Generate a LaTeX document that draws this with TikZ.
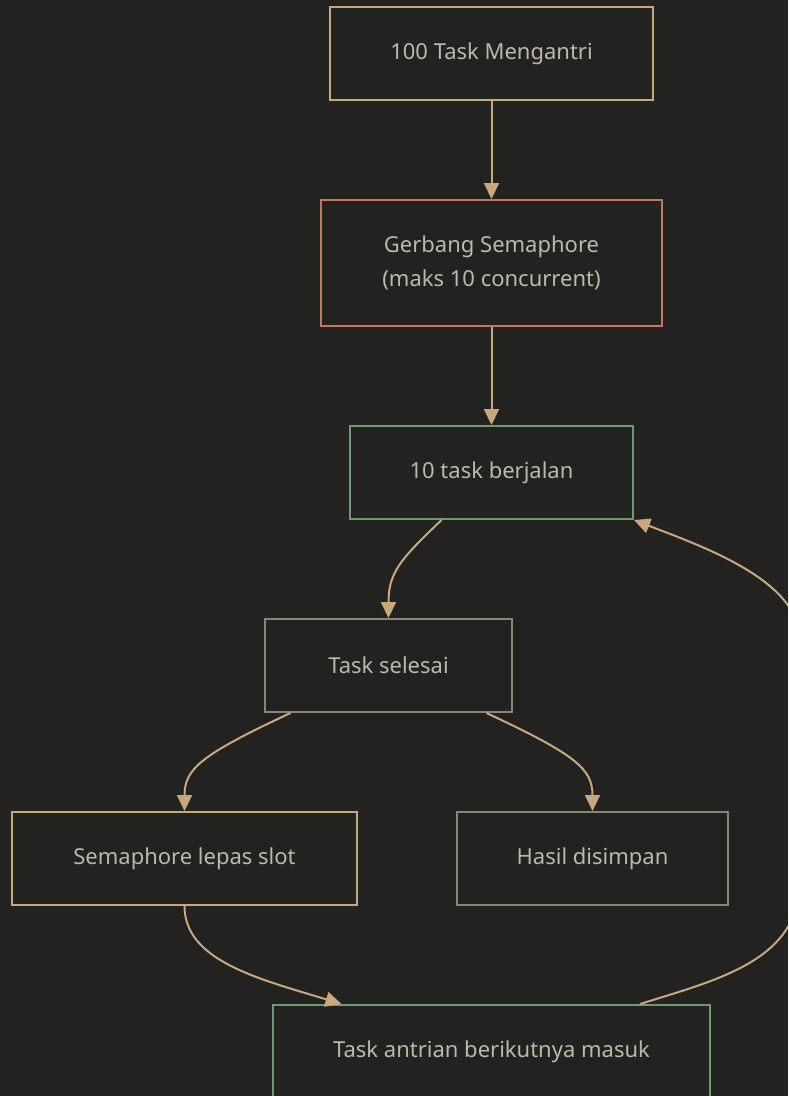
\documentclass[tikz,border=0pt]{standalone}
\usepackage{fontspec}
\setmainfont{Noto Sans}
\usetikzlibrary{arrows.meta}
\definecolor{bgc}{HTML}{222220}
\definecolor{txt}{HTML}{BCB8AC}
\definecolor{tan}{HTML}{C9A87E}
\definecolor{rust}{HTML}{C8785A}
\definecolor{sage}{HTML}{6E9A72}
\definecolor{stone}{HTML}{8A8676}
\tikzset{
  box/.style={draw, line width=2pt, fill=bgc, text=txt, inner sep=0pt,
    font=\fontsize{22}{34}\selectfont, align=center},
  link/.style={draw=tan, line width=2pt, -{Triangle[length=16pt,width=15pt]}},
}
\begin{document}
\begin{tikzpicture}[x=1pt,y=-1pt]
\fill[bgc] (0,0) rectangle (788,1096);
\clip (0,0) rectangle (788,1096);
\node[box, draw=tan, minimum width=323pt, minimum height=93pt] (n1) at (491.5,53.5) {100 Task Mengantri};
\node[box, draw=rust, minimum width=341pt, minimum height=126pt] (n2) at (491.5,263) {Gerbang Semaphore\\(maks 10 concurrent)};
\node[box, draw=sage, minimum width=283pt, minimum height=93pt] (n3) at (491.5,472.5) {10 task berjalan};
\node[box, draw=stone, minimum width=247pt, minimum height=93pt] (n4) at (388.5,665.5) {Task selesai};
\node[box, draw=tan, minimum width=345pt, minimum height=93pt] (n5) at (184.5,858.5) {Semaphore lepas slot};
\node[box, draw=stone, minimum width=271pt, minimum height=93pt] (n6) at (592.5,858.5) {Hasil disimpan};
\node[box, draw=sage, minimum width=437pt, minimum height=93pt] (n7) at (491.5,1051.5) {Task antrian berikutnya masuk};

% straight feed into the gate and into the running pool
\draw[link] (n1.south) -- (n2.north);
\draw[link] (n2.south) -- (n3.north);
% running -> finished
\draw[link] ([xshift=-50pt]n3.south) .. controls +(-42,40) and +(0,-45) .. (n4.north);
% finished -> release slot / store result
\draw[link] ([xshift=-98pt]n4.south) .. controls +(-90,42) and +(0,-42) .. (n5.north);
\draw[link] ([xshift=98pt]n4.south) .. controls +(90,42) and +(0,-42) .. (n6.north);
% release slot -> next task enters
\draw[link] (n5.south) .. controls +(0,55) and +(-82,-25) .. ([xshift=-150pt]n7.north);
% next task enters -> back into the running pool
\draw[link] ([xshift=148.5pt]n7.north) .. controls +(80,-25) and +(0,80) .. (800,880)
  -- (800,640) .. controls +(0,-60) and +(67,26) .. (n3.south east);
\end{tikzpicture}
\end{document}
